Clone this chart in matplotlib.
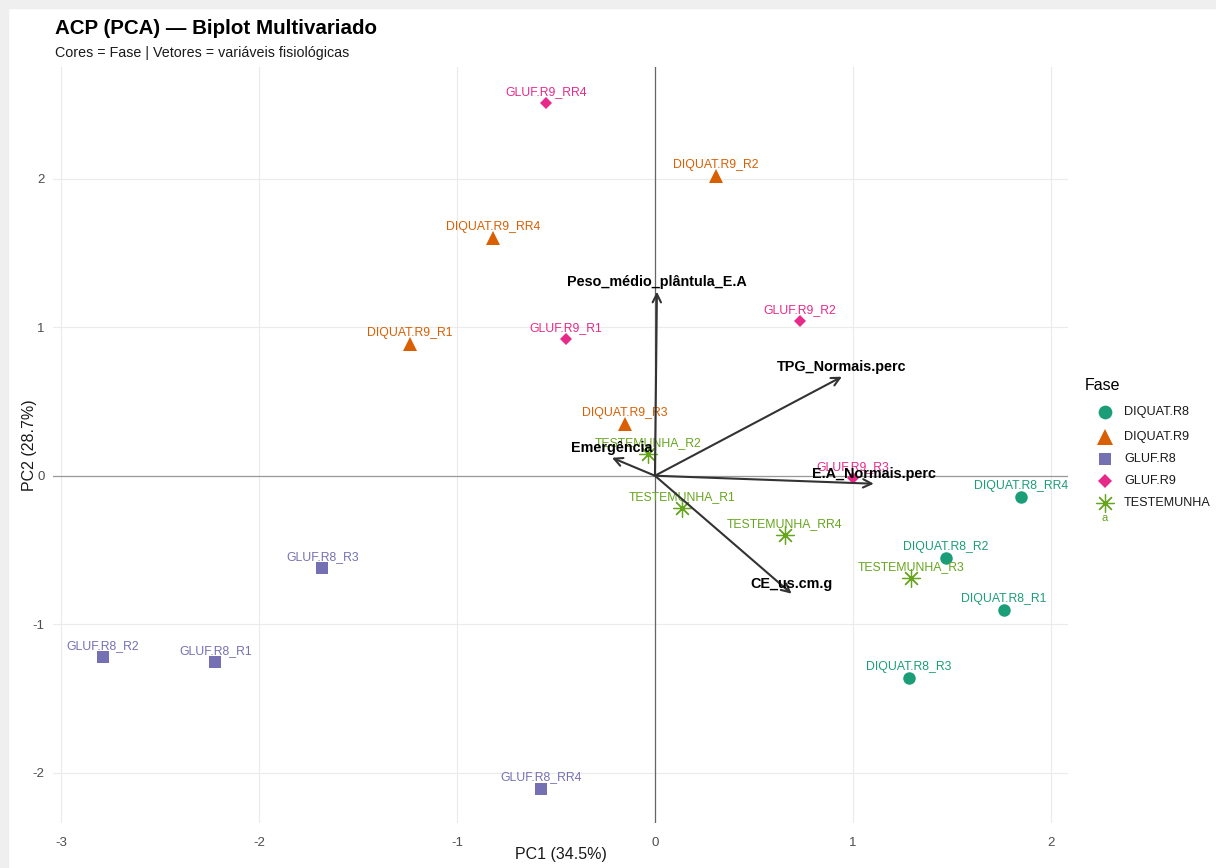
import matplotlib
matplotlib.use("Agg")
import matplotlib.pyplot as plt
from matplotlib.lines import Line2D
from matplotlib.patches import Rectangle

plt.rcParams['font.family'] = ['Liberation Sans', 'DejaVu Sans']
plt.rcParams['axes.unicode_minus'] = False

# ---- scores (PC1, PC2) per sample ----
samples = ["DIQUAT.R8_RR4", "DIQUAT.R8_R2", "DIQUAT.R8_R1", "DIQUAT.R8_R3",
           "DIQUAT.R9_R2", "DIQUAT.R9_RR4", "DIQUAT.R9_R1", "DIQUAT.R9_R3",
           "GLUF.R8_R3", "GLUF.R8_R2", "GLUF.R8_R1", "GLUF.R8_RR4",
           "GLUF.R9_RR4", "GLUF.R9_R1", "GLUF.R9_R2", "GLUF.R9_R3",
           "TESTEMUNHA_R2", "TESTEMUNHA_R1", "TESTEMUNHA_RR4", "TESTEMUNHA_R3"]
fase = ["DIQUAT.R8"] * 4 + ["DIQUAT.R9"] * 4 + ["GLUF.R8"] * 4 + ["GLUF.R9"] * 4 + ["TESTEMUNHA"] * 4
pc1 = [1.847, 1.468, 1.761, 1.282,
       0.308, -0.817, -1.236, -0.151,
       -1.680, -2.790, -2.220, -0.575,
       -0.550, -0.449, 0.732, 0.999,
       -0.035, 0.136, 0.656, 1.292]
pc2 = [-0.141, -0.552, -0.902, -1.360,
       2.020, 1.603, 0.889, 0.350,
       -0.620, -1.219, -1.253, -2.108,
       2.512, 0.923, 1.044, -0.013,
       0.148, -0.215, -0.397, -0.687]

# ---- loadings (variable vectors) ----
variables = ["Peso_médio_plântula_E.A", "TPG_Normais.perc", "E.A_Normais.perc",
             "Emergência", "CE_us.cm.g"]
load1 = [0.010, 0.944, 1.105, -0.217, 0.690]
load2 = [1.240, 0.667, -0.054, 0.121, -0.795]

groups = ["DIQUAT.R8", "DIQUAT.R9", "GLUF.R8", "GLUF.R9", "TESTEMUNHA"]
colors = {"DIQUAT.R8": "#1B9E77", "DIQUAT.R9": "#D95F02", "GLUF.R8": "#7570B3",
          "GLUF.R9": "#E7298A", "TESTEMUNHA": "#66A61E"}
markers = {"DIQUAT.R8": ("o", 9), "DIQUAT.R9": ("^", 10.5), "GLUF.R8": ("s", 8.5),
           "GLUF.R9": ("D", 6.5), "TESTEMUNHA": ((8, 2, 0), 13)}

W, H = 1216, 868
fig = plt.figure(figsize=(W / 100, H / 100), dpi=100)
fig.patch.set_facecolor("white")

# thin grey frame strips along the top and left edges
fig.add_artist(Rectangle((0, 1 - 8 / H), 1, 8 / H, transform=fig.transFigure,
                         color="#EFEFEF", zorder=0))
fig.add_artist(Rectangle((0, 0), 8 / W, 1, transform=fig.transFigure,
                         color="#EFEFEF", zorder=0))

left, right, top, bottom = 53, 1068, 67, 823
ax = fig.add_axes([left / W, 1 - bottom / H, (right - left) / W, (bottom - top) / H])
ax.set_xlim(-3.04, 2.086)
ax.set_ylim(-2.34, 2.754)
for s in ax.spines.values():
    s.set_visible(False)
ax.set_xticks([-3, -2, -1, 0, 1, 2])
ax.set_yticks([-2, -1, 0, 1, 2])
ax.grid(True, color="#EBEBEB", linewidth=0.8)
ax.set_axisbelow(True)
ax.tick_params(axis="x", length=0, labelsize=9.5, labelcolor="#4D4D4D", pad=10)
ax.tick_params(axis="y", length=0, labelsize=9.5, labelcolor="#4D4D4D", pad=6)
ax.set_xlabel("PC1 (34.5%)", fontsize=11.5, color="#1a1a1a")
ax.set_ylabel("PC2 (28.7%)", fontsize=11.5, color="#1a1a1a")
ax.xaxis.set_label_coords(0.5, -(847 - bottom) / (bottom - top))
ax.yaxis.set_label_coords(-(left - 37) / (right - left), 0.5)

ax.axhline(0, color="#999999", linewidth=0.9, zorder=1)
ax.axvline(0, color="#666666", linewidth=0.9, zorder=1)

# sample points
for g in groups:
    xs = [x for x, f in zip(pc1, fase) if f == g]
    ys = [y for y, f in zip(pc2, fase) if f == g]
    m, ms = markers[g]
    if g == "TESTEMUNHA":
        ax.plot(xs, ys, linestyle="none", marker=m, markersize=ms,
                markeredgecolor=colors[g], markeredgewidth=0.9, zorder=3)
    else:
        ax.plot(xs, ys, linestyle="none", marker=m, markersize=ms,
                color=colors[g], markeredgewidth=0, zorder=3)

# sample labels
for name, x, y, g in zip(samples, pc1, pc2, fase):
    ax.annotate(name, (x, y), xytext=(0, 11), textcoords="offset pixels",
                ha="center", va="center", fontsize=8.8, color=colors[g], zorder=4)

# loading vectors
for name, x, y in zip(variables, load1, load2):
    ax.annotate("", xy=(x, y), xytext=(0, 0),
                arrowprops=dict(arrowstyle="->,head_length=0.6,head_width=0.3",
                                color="#333333", lw=1.5, shrinkA=0, shrinkB=0),
                zorder=5)
    ax.annotate(name, (x, y), xytext=(0, 10), textcoords="offset pixels",
                ha="center", va="center", fontsize=10.4, fontweight="bold",
                color="black", zorder=6)

# titles
fig.text(55 / W, 1 - 28 / H, "ACP (PCA) — Biplot Multivariado", fontsize=14.8,
         fontweight="bold", ha="left", va="center")
fig.text(55 / W, 1 - 53 / H, "Cores = Fase | Vetores = variáveis fisiológicas",
         fontsize=10.3, ha="left", va="center", color="#1a1a1a")

# legend
fig.text(1085 / W, 1 - 385 / H, "Fase", fontsize=11.5, ha="left", va="center")
leg_y = [412, 437, 459, 481, 503]
for g, yy in zip(groups, leg_y):
    m, ms = markers[g]
    if g == "TESTEMUNHA":
        fig.add_artist(Line2D([1105 / W], [1 - yy / H], transform=fig.transFigure,
                              linestyle="none", marker=m, markersize=ms,
                              markeredgecolor=colors[g], markeredgewidth=0.9))
        fig.text(1105 / W, 1 - (yy + 15) / H, "a", fontsize=8, color=colors[g],
                 ha="center", va="center")
    else:
        fig.add_artist(Line2D([1105 / W], [1 - yy / H], transform=fig.transFigure,
                              linestyle="none", marker=m, markersize=ms * 1.1,
                              color=colors[g], markeredgewidth=0))
    fig.text(1124 / W, 1 - yy / H, g, fontsize=9.1, ha="left", va="center",
             color="#1a1a1a")

fig.savefig("out.png", dpi=100, facecolor=fig.get_facecolor())
